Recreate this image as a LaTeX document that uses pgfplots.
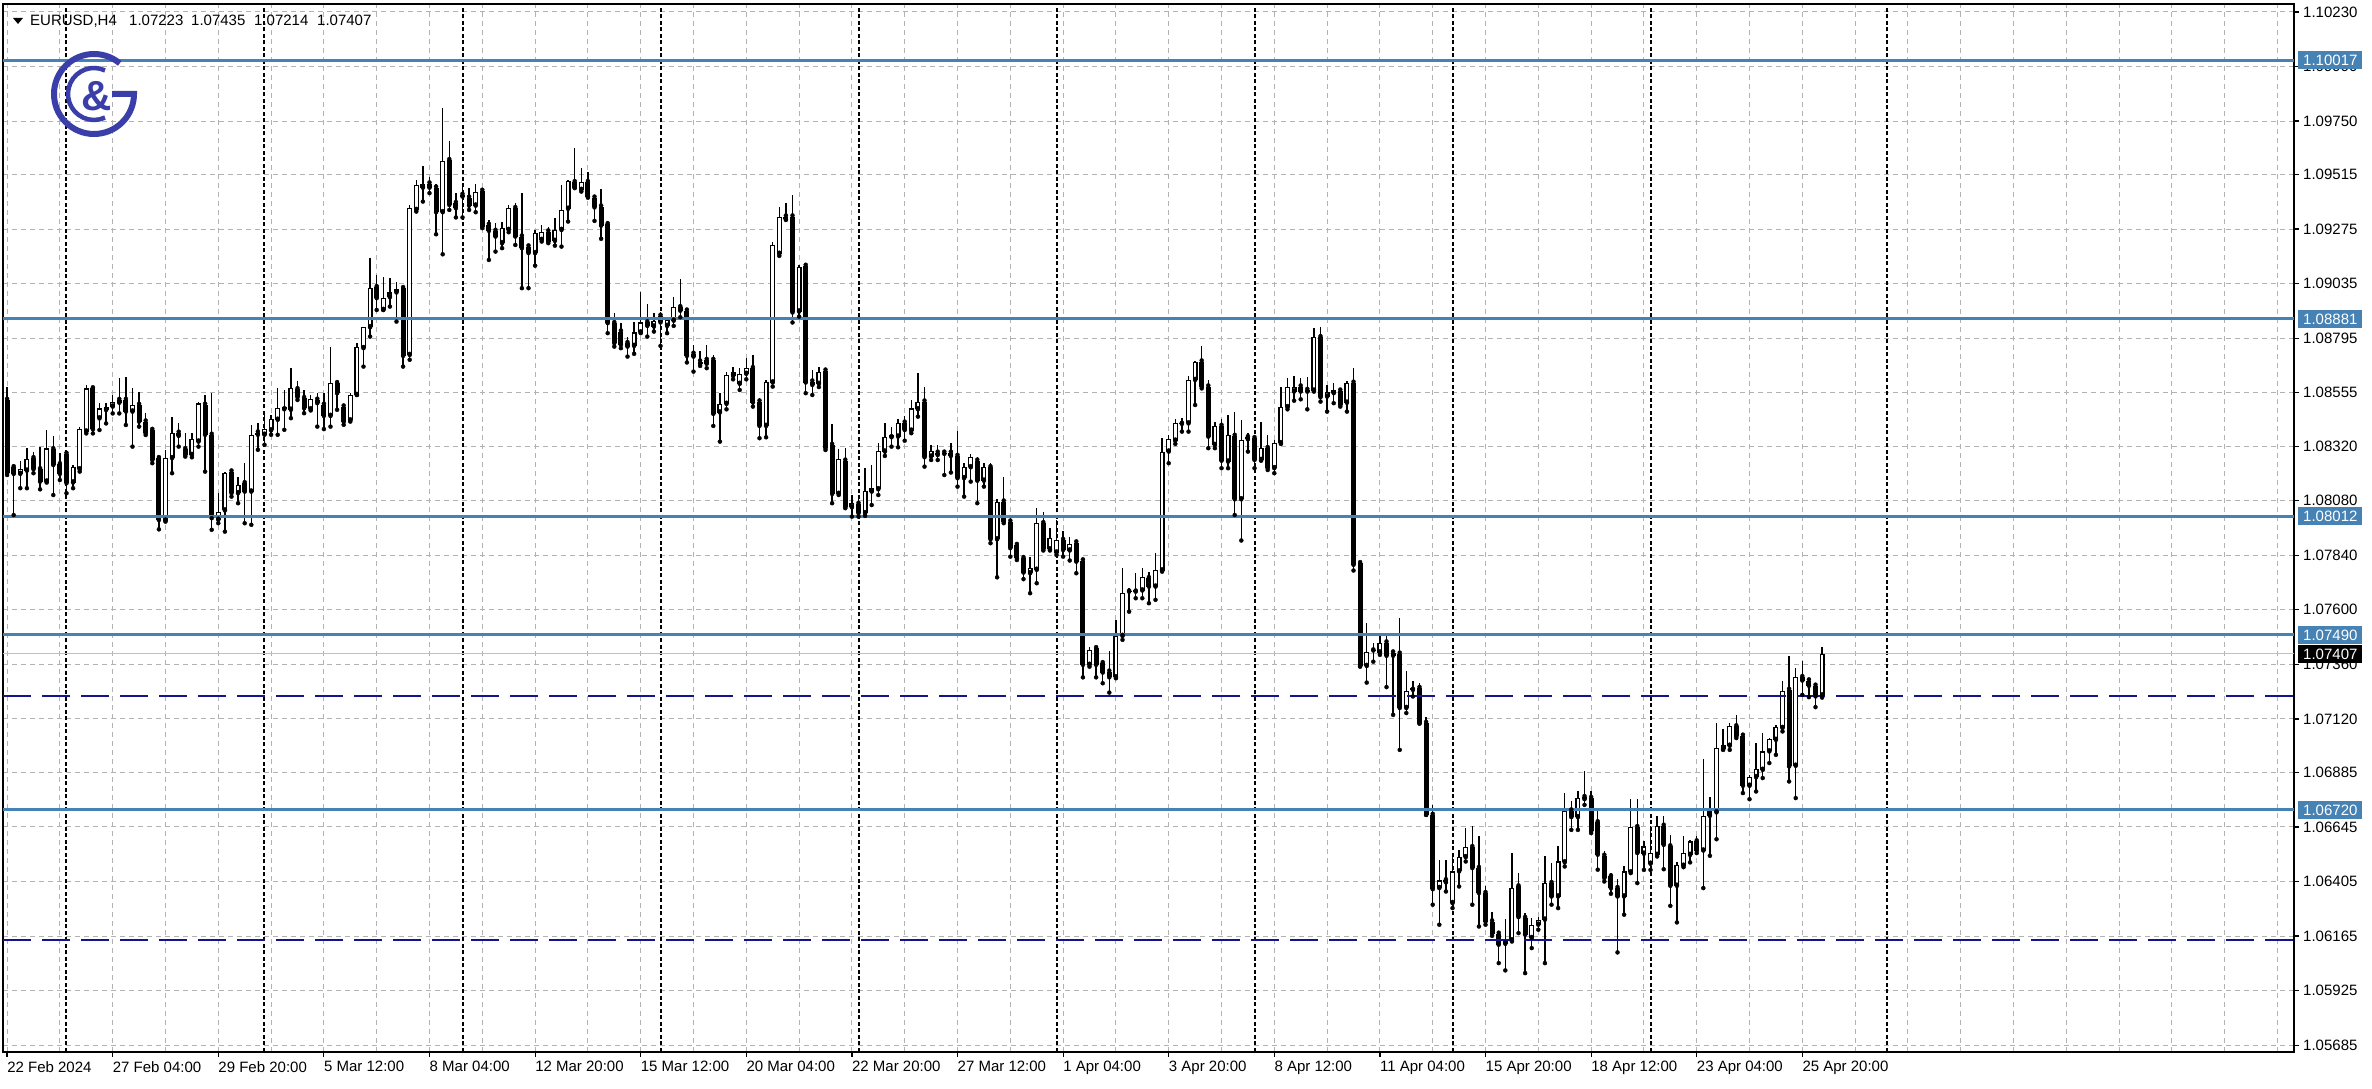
\documentclass[border=0pt]{standalone}
\usepackage{pgfplots}
\pgfplotsset{compat=1.18}
\usepackage{pgfplotstable}
\usepackage{fontspec}
\setmainfont{Liberation Sans}
\definecolor{lvl}{RGB}{70,130,180}
\definecolor{dsh}{RGB}{20,20,140}
\definecolor{logoc}{RGB}{58,62,168}
\definecolor{gridc}{RGB}{178,178,178}
\definecolor{bidc}{RGB}{192,192,192}

\pgfplotstableread{
i o h l c
-16 1.08523 1.08582 1.08193 1.08201
-15 1.08227 1.08237 1.08017 1.08198
-14 1.08198 1.08256 1.08135 1.08218
-13 1.08212 1.08310 1.08135 1.08262
-12 1.08267 1.08296 1.08201 1.08218
-11 1.08218 1.08318 1.08130 1.08164
-10 1.08164 1.08391 1.08160 1.08310
-9 1.08306 1.08365 1.08105 1.08237
-8 1.08240 1.08291 1.08171 1.08198
-7 1.08286 1.08303 1.08113 1.08157
-6 1.08160 1.08237 1.08135 1.08227
-5 1.08218 1.08406 1.08208 1.08394
-4 1.08384 1.08589 1.08376 1.08574
-3 1.08574 1.08585 1.08376 1.08394
-2 1.08442 1.08508 1.08391 1.08486
-1 1.08479 1.08508 1.08420 1.08494
0 1.08494 1.08545 1.08464 1.08516
1 1.08523 1.08620 1.08464 1.08511
2 1.08523 1.08626 1.08413 1.08472
3 1.08472 1.08574 1.08318 1.08501
4 1.08501 1.08560 1.08406 1.08428
5 1.08428 1.08464 1.08369 1.08376
6 1.08391 1.08398 1.08245 1.08259
7 1.08267 1.08277 1.07954 1.07995
8 1.07992 1.08303 1.07988 1.08267
9 1.08267 1.08450 1.08201 1.08379
10 1.08379 1.08420 1.08318 1.08365
11 1.08306 1.08376 1.08274 1.08281
12 1.08281 1.08376 1.08271 1.08350
13 1.08340 1.08516 1.08318 1.08508
14 1.08502 1.08545 1.08208 1.08370
15 1.08370 1.08553 1.07952 1.08003
16 1.07996 1.08113 1.07981 1.08032
17 1.08037 1.08208 1.07944 1.08201
18 1.08208 1.08216 1.08098 1.08113
19 1.08113 1.08186 1.08069 1.08150
20 1.08157 1.08245 1.07981 1.08120
21 1.08120 1.08414 1.07974 1.08370
22 1.08380 1.08421 1.08304 1.08370
23 1.08370 1.08472 1.08326 1.08395
24 1.08389 1.08457 1.08370 1.08438
25 1.08436 1.08575 1.08370 1.08487
26 1.08482 1.08567 1.08392 1.08491
27 1.08480 1.08663 1.08443 1.08575
28 1.08570 1.08608 1.08523 1.08535
29 1.08531 1.08567 1.08465 1.08487
30 1.08482 1.08545 1.08477 1.08526
31 1.08524 1.08553 1.08406 1.08509
32 1.08502 1.08553 1.08395 1.08453
33 1.08453 1.08758 1.08406 1.08597
34 1.08597 1.08600 1.08480 1.08553
35 1.08494 1.08502 1.08414 1.08428
36 1.08433 1.08553 1.08428 1.08545
37 1.08545 1.08773 1.08545 1.08758
38 1.08751 1.08846 1.08670 1.08843
39 1.08843 1.09147 1.08802 1.09015
40 1.09019 1.09073 1.08919 1.08971
41 1.08919 1.09066 1.08919 1.08971
42 1.08975 1.09059 1.08934 1.08996
43 1.08996 1.09040 1.08868 1.09010
44 1.09015 1.09022 1.08670 1.08717
45 1.08721 1.09380 1.08700 1.09367
46 1.09359 1.09491 1.09352 1.09469
47 1.09457 1.09554 1.09396 1.09475
48 1.09475 1.09506 1.09433 1.09457
49 1.09457 1.09472 1.09252 1.09349
50 1.09349 1.09809 1.09164 1.09575
51 1.09578 1.09663 1.09359 1.09381
52 1.09389 1.09433 1.09326 1.09367
53 1.09425 1.09472 1.09326 1.09418
54 1.09413 1.09455 1.09359 1.09378
55 1.09378 1.09472 1.09349 1.09437
56 1.09443 1.09447 1.09279 1.09286
57 1.09293 1.09315 1.09139 1.09267
58 1.09267 1.09301 1.09176 1.09242
59 1.09213 1.09308 1.09191 1.09279
60 1.09271 1.09381 1.09261 1.09367
61 1.09367 1.09389 1.09205 1.09242
62 1.09242 1.09433 1.09015 1.09191
63 1.09198 1.09208 1.09015 1.09169
64 1.09169 1.09271 1.09114 1.09257
65 1.09227 1.09293 1.09220 1.09264
66 1.09264 1.09286 1.09213 1.09220
67 1.09223 1.09323 1.09202 1.09271
68 1.09271 1.09469 1.09198 1.09359
69 1.09364 1.09491 1.09308 1.09487
70 1.09481 1.09633 1.09455 1.09457
71 1.09447 1.09545 1.09440 1.09481
72 1.09481 1.09525 1.09413 1.09418
73 1.09413 1.09425 1.09311 1.09370
74 1.09374 1.09452 1.09232 1.09290
75 1.09296 1.09311 1.08817 1.08861
76 1.08861 1.08905 1.08758 1.08773
77 1.08824 1.08861 1.08751 1.08765
78 1.08773 1.08802 1.08714 1.08758
79 1.08761 1.08868 1.08726 1.08820
80 1.08820 1.08996 1.08817 1.08864
81 1.08864 1.08946 1.08802 1.08849
82 1.08846 1.08907 1.08824 1.08872
83 1.08893 1.08912 1.08761 1.08864
84 1.08849 1.08890 1.08817 1.08875
85 1.08872 1.08975 1.08849 1.08931
86 1.08931 1.09054 1.08887 1.08916
87 1.08916 1.08922 1.08688 1.08717
88 1.08726 1.08765 1.08648 1.08714
89 1.08692 1.08740 1.08673 1.08682
90 1.08699 1.08765 1.08663 1.08682
91 1.08699 1.08721 1.08409 1.08462
92 1.08468 1.08553 1.08340 1.08506
93 1.08506 1.08648 1.08482 1.08633
94 1.08629 1.08670 1.08614 1.08648
95 1.08594 1.08663 1.08567 1.08638
96 1.08638 1.08707 1.08614 1.08663
97 1.08663 1.08721 1.08494 1.08512
98 1.08516 1.08531 1.08355 1.08409
99 1.08409 1.08611 1.08359 1.08604
100 1.08600 1.09220 1.08582 1.09205
101 1.09166 1.09371 1.09157 1.09330
102 1.09330 1.09388 1.09315 1.09318
103 1.09330 1.09425 1.08864 1.08908
104 1.08912 1.09117 1.08890 1.09110
105 1.09113 1.09117 1.08553 1.08600
106 1.08604 1.08655 1.08545 1.08589
107 1.08594 1.08670 1.08580 1.08648
108 1.08652 1.08655 1.08303 1.08311
109 1.08325 1.08418 1.08069 1.08110
110 1.08110 1.08306 1.08105 1.08262
111 1.08256 1.08311 1.08047 1.08051
112 1.08051 1.08105 1.08010 1.08069
113 1.08066 1.08098 1.08010 1.08025
114 1.08025 1.08223 1.08013 1.08124
115 1.08120 1.08237 1.08061 1.08135
116 1.08130 1.08335 1.08105 1.08300
117 1.08296 1.08423 1.08277 1.08359
118 1.08359 1.08403 1.08318 1.08369
119 1.08362 1.08438 1.08315 1.08423
120 1.08423 1.08453 1.08344 1.08391
121 1.08388 1.08523 1.08377 1.08486
122 1.08482 1.08640 1.08450 1.08516
123 1.08516 1.08582 1.08230 1.08271
124 1.08274 1.08325 1.08259 1.08300
125 1.08291 1.08325 1.08259 1.08281
126 1.08291 1.08303 1.08193 1.08286
127 1.08291 1.08333 1.08204 1.08277
128 1.08277 1.08388 1.08142 1.08179
129 1.08179 1.08248 1.08098 1.08227
130 1.08227 1.08286 1.08164 1.08271
131 1.08256 1.08271 1.08069 1.08168
132 1.08168 1.08248 1.08142 1.08230
133 1.08227 1.08248 1.07893 1.07910
134 1.07910 1.08086 1.07743 1.08076
135 1.08076 1.08186 1.07981 1.07988
136 1.07988 1.08010 1.07834 1.07871
137 1.07885 1.07900 1.07819 1.07827
138 1.07827 1.07834 1.07735 1.07764
139 1.07761 1.07834 1.07673 1.07783
140 1.07776 1.08047 1.07717 1.07981
141 1.07981 1.08032 1.07861 1.07866
142 1.07866 1.07959 1.07861 1.07915
143 1.07852 1.07995 1.07841 1.07907
144 1.07907 1.07948 1.07834 1.07863
145 1.07861 1.07919 1.07817 1.07890
146 1.07896 1.07907 1.07761 1.07812
147 1.07817 1.07827 1.07303 1.07358
148 1.07358 1.07435 1.07350 1.07424
149 1.07431 1.07435 1.07303 1.07358
150 1.07365 1.07380 1.07277 1.07324
151 1.07328 1.07420 1.07236 1.07303
152 1.07303 1.07556 1.07299 1.07485
153 1.07485 1.07783 1.07468 1.07676
154 1.07680 1.07695 1.07592 1.07685
155 1.07680 1.07761 1.07651 1.07688
156 1.07685 1.07783 1.07651 1.07743
157 1.07739 1.07768 1.07629 1.07702
158 1.07702 1.07849 1.07644 1.07776
159 1.07773 1.08355 1.07768 1.08296
160 1.08296 1.08369 1.08245 1.08350
161 1.08344 1.08438 1.08330 1.08423
162 1.08418 1.08443 1.08384 1.08423
163 1.08420 1.08629 1.08384 1.08611
164 1.08611 1.08696 1.08501 1.08692
165 1.08692 1.08761 1.08574 1.08582
166 1.08582 1.08611 1.08311 1.08362
167 1.08325 1.08428 1.08311 1.08409
168 1.08409 1.08438 1.08223 1.08256
169 1.08252 1.08457 1.08223 1.08369
170 1.08365 1.08472 1.08017 1.08086
171 1.08086 1.08435 1.07905 1.08347
172 1.08359 1.08377 1.08296 1.08350
173 1.08355 1.08369 1.08223 1.08259
174 1.08259 1.08428 1.08256 1.08311
175 1.08311 1.08369 1.08215 1.08223
176 1.08223 1.08347 1.08201 1.08336
177 1.08333 1.08582 1.08330 1.08494
178 1.08491 1.08618 1.08482 1.08582
179 1.08560 1.08629 1.08520 1.08582
180 1.08582 1.08618 1.08526 1.08560
181 1.08567 1.08626 1.08482 1.08560
182 1.08564 1.08838 1.08560 1.08799
183 1.08799 1.08843 1.08516 1.08535
184 1.08538 1.08589 1.08472 1.08560
185 1.08553 1.08596 1.08509 1.08567
186 1.08564 1.08574 1.08494 1.08501
187 1.08511 1.08608 1.08472 1.08599
188 1.08599 1.08662 1.07773 1.07798
189 1.07805 1.07812 1.07350 1.07353
190 1.07353 1.07541 1.07280 1.07416
191 1.07421 1.07453 1.07372 1.07425
192 1.07412 1.07497 1.07402 1.07456
193 1.07456 1.07497 1.07260 1.07398
194 1.07412 1.07417 1.07138 1.07398
195 1.07407 1.07563 1.06984 1.07168
196 1.07168 1.07333 1.07146 1.07245
197 1.07248 1.07285 1.07219 1.07254
198 1.07256 1.07278 1.07099 1.07102
199 1.07102 1.07128 1.06698 1.06698
200 1.06698 1.06742 1.06303 1.06371
201 1.06376 1.06501 1.06215 1.06410
202 1.06410 1.06501 1.06361 1.06401
203 1.06310 1.06523 1.06288 1.06449
204 1.06449 1.06545 1.06383 1.06512
205 1.06512 1.06640 1.06493 1.06556
206 1.06556 1.06647 1.06303 1.06464
207 1.06464 1.06603 1.06207 1.06354
208 1.06354 1.06383 1.06215 1.06229
209 1.06229 1.06273 1.06166 1.06175
210 1.06175 1.06185 1.06046 1.06127
211 1.06131 1.06240 1.06014 1.06152
212 1.06146 1.06530 1.06141 1.06376
213 1.06383 1.06442 1.06178 1.06248
214 1.06244 1.06266 1.06002 1.06171
215 1.06156 1.06244 1.06112 1.06215
216 1.06215 1.06248 1.06193 1.06237
217 1.06237 1.06515 1.06046 1.06398
218 1.06398 1.06486 1.06303 1.06339
219 1.06339 1.06559 1.06288 1.06493
220 1.06489 1.06794 1.06471 1.06717
221 1.06717 1.06757 1.06632 1.06688
222 1.06688 1.06801 1.06632 1.06772
223 1.06776 1.06893 1.06742 1.06767
224 1.06772 1.06805 1.06618 1.06625
225 1.06665 1.06713 1.06457 1.06523
226 1.06518 1.06537 1.06405 1.06420
227 1.06427 1.06442 1.06351 1.06376
228 1.06376 1.06415 1.06093 1.06339
229 1.06339 1.06471 1.06259 1.06449
230 1.06445 1.06767 1.06442 1.06644
231 1.06644 1.06767 1.06398 1.06530
232 1.06527 1.06581 1.06456 1.06559
233 1.06483 1.06647 1.06456 1.06530
234 1.06522 1.06694 1.06515 1.06650
235 1.06650 1.06691 1.06459 1.06566
236 1.06559 1.06610 1.06298 1.06386
237 1.06386 1.06489 1.06225 1.06478
238 1.06474 1.06603 1.06468 1.06530
239 1.06522 1.06588 1.06489 1.06581
240 1.06581 1.06603 1.06530 1.06541
241 1.06541 1.06943 1.06376 1.06694
242 1.06694 1.06776 1.06518 1.06713
243 1.06709 1.07104 1.06591 1.06992
244 1.06987 1.07075 1.06984 1.07006
245 1.07002 1.07101 1.06984 1.07090
246 1.07087 1.07138 1.07036 1.07043
247 1.07046 1.07050 1.06794 1.06826
248 1.06826 1.06874 1.06767 1.06864
249 1.06864 1.07014 1.06801 1.06899
250 1.06896 1.07058 1.06860 1.06977
251 1.06977 1.07036 1.06926 1.07031
252 1.07028 1.07094 1.06962 1.07084
253 1.07080 1.07285 1.07065 1.07245
254 1.07248 1.07395 1.06845 1.06911
255 1.06914 1.07343 1.06772 1.07304
256 1.07304 1.07377 1.07226 1.07289
257 1.07289 1.07295 1.07216 1.07266
258 1.07266 1.07275 1.07172 1.07219
259 1.07223 1.07435 1.07214 1.07407
}\candles

\begin{document}
\begin{tikzpicture}[x=1pt,y=1pt,font=\fontsize{15}{17}\selectfont,
  pbox/.style={text=white, anchor=west, inner xsep=5pt, inner ysep=0pt, minimum height=18pt, text height=11pt, text depth=0pt, xshift=4pt}]
\path[use as bounding box, fill=white] (0,0) rectangle (2372,1089);
\begin{axis}[
  at={(3pt,37pt)}, anchor=south west,
  scale only axis, width=2291pt, height=1048pt,
  xmin=-16.62, xmax=330.5, ymin=1.05655, ymax=1.10265,
  clip=false,
  axis line style={black, line width=1.5pt},
  xtick={-16,0,16,...,256},
  xticklabels={22 Feb 2024,27 Feb 04:00,29 Feb 20:00,5 Mar 12:00,8 Mar 04:00,12 Mar 20:00,15 Mar 12:00,20 Mar 04:00,22 Mar 20:00,27 Mar 12:00,1 Apr 04:00,3 Apr 20:00,8 Apr 12:00,11 Apr 04:00,15 Apr 20:00,18 Apr 12:00,23 Apr 04:00,25 Apr 20:00},
  minor xtick={-16,-8,...,328},
  ytick={1.10230,1.09990,1.09750,1.09515,1.09275,1.09035,1.08795,1.08555,1.08320,1.08080,1.07840,1.07600,1.07360,1.07120,1.06885,1.06645,1.06405,1.06165,1.05925,1.05685},
  yticklabels={1.10230,1.09990,1.09750,1.09515,1.09275,1.09035,1.08795,1.08555,1.08320,1.08080,1.07840,1.07600,1.07360,1.07120,1.06885,1.06645,1.06405,1.06165,1.05925,1.05685},
  xtick pos=left, ytick pos=right, yticklabel pos=right,
  tick align=outside, major tick length=5pt, minor tick length=0pt,
  every tick/.style={black, line width=1.2pt},
  xminorgrids, ymajorgrids,
  grid style={gridc, line width=1pt, dash pattern=on 5pt off 4pt},
  tick label style={font=\fontsize{15}{17}\selectfont},
  xticklabel style={anchor=north west, inner sep=0pt, yshift=-4pt},
  yticklabel style={anchor=west, inner sep=0pt, xshift=4pt},
  extra x ticks={-7,23,53,83,113,143,173,203,233,268.8},
  extra x tick labels={{},{},{},{},{},{},{},{},{},{}},
  extra x tick style={major tick length=0pt, grid=major, major grid style={black, line width=2pt, dash pattern=on 4pt off 2.5pt}},
]
% bid line
\addplot[bidc, line width=1.2pt] coordinates {(-16.62,1.07407) (330.5,1.07407)};
% wicks
\addplot[only marks, mark=none, error bars/.cd, y dir=plus, y explicit, error mark=none, error bar style={black, line width=1.4pt}]
  table[x=i, y=l, y error plus expr={\thisrow{h}-\thisrow{l}}] {\candles};
% bodies (black)
\addplot[only marks, mark=none, error bars/.cd, y dir=plus, y explicit, error mark=none, error bar style={black, line width=5pt}]
  table[x=i, y expr={min(\thisrow{o},\thisrow{c})}, y error plus expr={max(abs(\thisrow{c}-\thisrow{o}),0.00004)}] {\candles};
% bodies (white inside of rising candles)
\addplot[only marks, mark=none, error bars/.cd, y dir=plus, y explicit, error mark=none, error bar style={white, line width=2.6pt}]
  table[x=i, y expr={\thisrow{o}+0.00005}, y error plus expr={max(\thisrow{c}-\thisrow{o}-0.0001,0)}] {\candles};
% levels
\addplot[lvl, line width=2.8pt] coordinates {(-16.62,1.10017) (330.5,1.10017)};
\addplot[lvl, line width=2.8pt] coordinates {(-16.62,1.08881) (330.5,1.08881)};
\addplot[lvl, line width=2.8pt] coordinates {(-16.62,1.08012) (330.5,1.08012)};
\addplot[lvl, line width=2.8pt] coordinates {(-16.62,1.07490) (330.5,1.07490)};
\addplot[lvl, line width=2.8pt] coordinates {(-16.62,1.06720) (330.5,1.06720)};
\addplot[dsh, line width=2pt, dash pattern=on 28pt off 11pt] coordinates {(-16.62,1.07223) (330.5,1.07223)};
\addplot[dsh, line width=2pt, dash pattern=on 28pt off 11pt] coordinates {(-16.62,1.06147) (330.5,1.06147)};
% price boxes
\node[pbox, fill=lvl] at (axis cs:330.5,1.10017) {1.10017};
\node[pbox, fill=lvl] at (axis cs:330.5,1.08881) {1.08881};
\node[pbox, fill=lvl] at (axis cs:330.5,1.08012) {1.08012};
\node[pbox, fill=lvl] at (axis cs:330.5,1.07490) {1.07490};
\node[pbox, fill=lvl] at (axis cs:330.5,1.06720) {1.06720};
\node[pbox, fill=black] at (axis cs:330.5,1.07407) {1.07407};
\end{axis}
% header
\fill (13,1071) -- (23,1071) -- (18,1065) -- cycle;
\node[anchor=base west, inner sep=0pt] at (30,1063) {EURUSD,H4};
\node[anchor=base west, inner sep=0pt] at (129,1063) {1.07223};
\node[anchor=base west, inner sep=0pt] at (191,1063) {1.07435};
\node[anchor=base west, inner sep=0pt] at (254,1063) {1.07214};
\node[anchor=base west, inner sep=0pt] at (317,1063) {1.07407};
% logo
\draw[logoc, line width=6pt] (94,995) ++(50:40) arc[start angle=50, end angle=360, radius=40] -- ++(-22,0);
\draw[logoc, line width=4.5pt] (94,995) ++(65:26) arc[start angle=65, end angle=295, radius=26];
\node[logoc, font=\fontsize{42}{42}\selectfont\bfseries] at (97,993) {\&};
\end{tikzpicture}
\end{document}
